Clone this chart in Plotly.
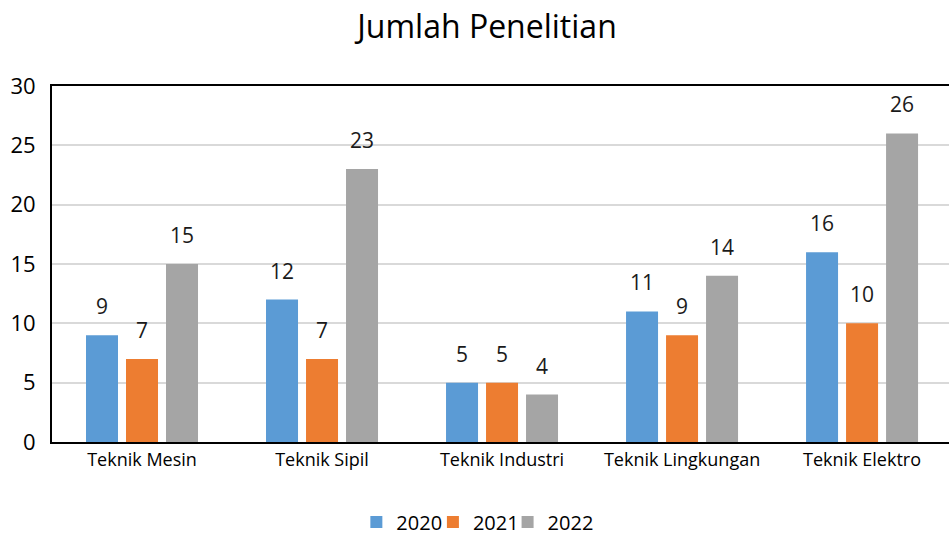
import plotly.graph_objects as go

categories = ["Teknik Mesin", "Teknik Sipil", "Teknik Industri", "Teknik Lingkungan", "Teknik Elektro"]
years = ["2020", "2021", "2022"]
values_2020 = [9, 12, 5, 11, 16]
values_2021 = [7, 7, 5, 9, 10]
values_2022 = [15, 23, 4, 14, 26]
y_ticks = [0, 5, 10, 15, 20, 25, 30]

series = [values_2020, values_2021, values_2022]
colors = ["#5B9BD5", "#ED7D31", "#A5A5A5"]
legend_ids = ["legend", "legend2", "legend3"]
legend_left_px = [322, 403, 482]
FONT = "Open Sans"

fig = go.Figure()
for name, vals, col, lid in zip(years, series, colors, legend_ids):
    fig.add_trace(go.Bar(x=categories, y=vals, name=name, legend=lid,
                         marker=dict(color=col, line=dict(width=0))))

# data labels
annotations = []
for i, vals in enumerate(series):
    for cat, v in zip(categories, vals):
        annotations.append(dict(
            x=cat, y=v, text=str(v), showarrow=False,
            xref="x", yref="y", xshift=(i - 1) * 40, yshift=29,
            yanchor="middle", font=dict(family=FONT, size=21, color="#1a1a1a")))

legend_layouts = {}
for lid, px in zip(legend_ids, legend_left_px):
    legend_layouts[lid] = dict(orientation="h", x=px / 949, xanchor="left", xref="paper", yref="container",
                               y=13 / 535, yanchor="middle", bgcolor="rgba(0,0,0,0)",
                               font=dict(family=FONT, size=20, color="#000000"), itemwidth=30)

fig.update_layout(
    width=949, height=535,
    paper_bgcolor="white", plot_bgcolor="white",
    margin=dict(l=52, r=0, t=86, b=93),
    title=dict(text="Jumlah Penelitian", x=487 / 949, xanchor="center", y=1 - 27 / 535, yanchor="middle",
               font=dict(family=FONT, size=32, color="#000000")),
    barmode="group", bargap=1 / 3, bargroupgap=0.2,
    showlegend=True,
    annotations=annotations,
    font=dict(family=FONT),
    **legend_layouts,
)
fig.update_xaxes(
    range=[-0.5, 4.483], showline=True, linecolor="black", linewidth=2, mirror=True,
    showgrid=False, ticks="", tickfont=dict(family=FONT, size=18, color="#000000"),
)
fig.update_yaxes(
    range=[0, 30], tickvals=y_ticks, showline=True, linecolor="black", linewidth=2,
    showgrid=True, gridcolor="#D9D9D9", gridwidth=2, zeroline=False, ticks="",
    ticklabelstandoff=10, tickfont=dict(family=FONT, size=22, color="#000000"),
)
fig.write_html("out.html", config={"displayModeBar": False},
               post_script="document.body.style.margin='0';")
